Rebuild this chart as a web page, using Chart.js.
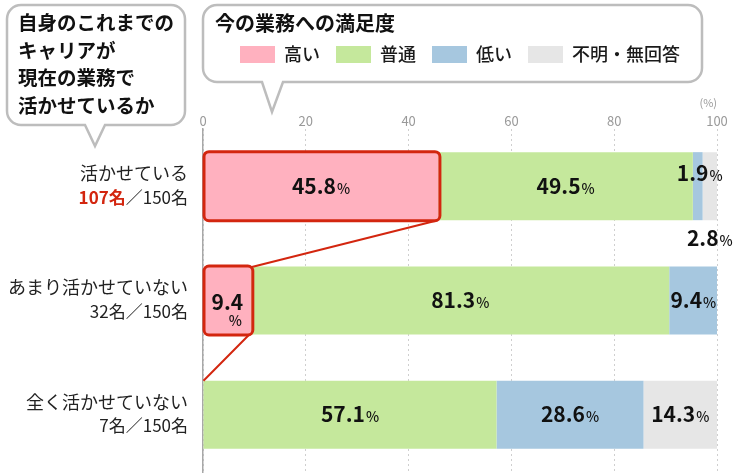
<!DOCTYPE html>
<html lang="ja">
<head>
<meta charset="utf-8">
<title>自身のこれまでのキャリアが現在の業務で活かせているか</title>
<script src="https://cdn.jsdelivr.net/npm/chart.js@4.4.1/dist/chart.umd.min.js"></script>
<style>
html, body { margin: 0; padding: 0; background: #fff; }
#wrap { width: 738px; height: 475px; }
</style>
</head>
<body>
<div id="wrap"><canvas id="chart" width="738" height="475"></canvas></div>
<script>
var categories = ['活かせている', 'あまり活かせていない', '全く活かせていない'];
var counts = [107, 32, 7];
var total = 150;
var seriesNames = ['高い', '普通', '低い', '不明・無回答'];
var high = [45.8, 9.4, 0];
var normal = [49.5, 81.3, 57.1];
var low = [1.9, 9.4, 28.6];
var unknown = [2.8, 0, 14.3];
var xTicks = [0, 20, 40, 60, 80, 100];

var FONT = '"Noto Sans CJK JP", "Noto Sans", sans-serif';
var RED = '#d3260f';
Chart.defaults.font.family = FONT;

// labels that don't sit in the middle of their segment
var labelShift = {
    '2-0': { dx: 2, dy: -13 },
    '3-0': { dx: 0, dy: 52 },
    '0-1': { split: true }
};

function drawValue(ctx, v, x, y, split) {
    var num = v.toFixed(1);
    ctx.fillStyle = '#111';
    if (split) {
        ctx.textAlign = 'center';
        ctx.textBaseline = 'middle';
        ctx.font = 'bold 21px ' + FONT;
        ctx.fillText(num, x, y + 2);
        ctx.font = '500 14px ' + FONT;
        ctx.fillText('%', x + 8, y + 20);
        return;
    }
    ctx.font = 'bold 21px ' + FONT;
    var w1 = ctx.measureText(num).width;
    ctx.font = '500 14px ' + FONT;
    var w2 = ctx.measureText('%').width;
    var left = x - (w1 + w2 + 1) / 2;
    ctx.textAlign = 'left';
    ctx.textBaseline = 'alphabetic';
    ctx.font = 'bold 21px ' + FONT;
    ctx.fillText(num, left, y + 7.5);
    ctx.font = '500 14px ' + FONT;
    ctx.fillText('%', left + w1 + 1, y + 7.5);
}

function bubble(ctx, x, y, w, h, r, tail) {
    ctx.beginPath();
    ctx.moveTo(x + r, y);
    ctx.lineTo(x + w - r, y);
    ctx.arcTo(x + w, y, x + w, y + r, r);
    ctx.lineTo(x + w, y + h - r);
    ctx.arcTo(x + w, y + h, x + w - r, y + h, r);
    ctx.lineTo(tail.x2, y + h);
    ctx.lineTo(tail.tipX, tail.tipY);
    ctx.lineTo(tail.x1, y + h);
    ctx.lineTo(x + r, y + h);
    ctx.arcTo(x, y + h, x, y + h - r, r);
    ctx.lineTo(x, y + r);
    ctx.arcTo(x, y, x + r, y, r);
    ctx.closePath();
    ctx.fillStyle = '#fff';
    ctx.fill();
    ctx.lineWidth = 2.5;
    ctx.strokeStyle = '#bdbdbd';
    ctx.stroke();
}

var decorPlugin = {
    id: 'decor',
    beforeDraw: function(chart) {
        var ctx = chart.ctx;
        var lg = chart.legend;
        ctx.save();
        bubble(ctx, 7, 5, 178, 120, 14, { x1: 85, x2: 105, tipX: 95, tipY: 146 });
        bubble(ctx, lg.left, 5, lg.width - 15, 77, 14, { x1: 262, x2: 283, tipX: 272, tipY: 112 });

        ctx.fillStyle = '#111';
        ctx.textAlign = 'left';
        ctx.textBaseline = 'middle';
        ctx.font = 'bold 19.5px ' + FONT;
        ['自身のこれまでの', 'キャリアが', '現在の業務で', '活かせているか'].forEach(function(t, i) {
            ctx.fillText(t, 18, 23 + i * 27.5);
        });
        ctx.font = 'bold 20px ' + FONT;
        ctx.fillText('今の業務への満足度', lg.left + 12, 23);
        ctx.restore();
    },
    afterDatasetsDraw: function(chart) {
        var ctx = chart.ctx;
        var first = chart.getDatasetMeta(0).data;
        var thirdRow = chart.getDatasetMeta(1).data[2];
        function box(el) {
            var h = el.height;
            return { l: el.base + 0.5, r: el.x + 1.5, t: el.y - h / 2 - 0.5, b: el.y + h / 2 + 0.5 };
        }
        var b1 = box(first[0]);
        var b2 = box(first[1]);
        ctx.save();
        ctx.strokeStyle = RED;
        ctx.lineWidth = 2;
        ctx.beginPath();
        ctx.moveTo(b1.r - 4, b1.b);
        ctx.lineTo(b2.r - 1, b2.t + 1);
        ctx.moveTo(b2.r - 4, b2.b);
        ctx.lineTo(thirdRow.base, thirdRow.y - thirdRow.height / 2);
        ctx.stroke();
        ctx.lineWidth = 3;
        [b1, b2].forEach(function(b) {
            ctx.beginPath();
            ctx.roundRect(b.l, b.t, b.r - b.l, b.b - b.t, 5);
            ctx.stroke();
        });

        // value labels
        chart.data.datasets.forEach(function(ds, di) {
            chart.getDatasetMeta(di).data.forEach(function(el, i) {
                var v = ds.data[i];
                if (!v) return;
                var s = labelShift[di + '-' + i] || {};
                var cx = (el.x + el.base) / 2 + (s.dx || 0);
                var cy = el.y + (s.dy || 0);
                drawValue(ctx, v, cx, cy, s.split);
            });
        });

        // category labels with head counts
        var yScale = chart.scales.y;
        var x = chart.chartArea.left - 15;
        categories.forEach(function(c, i) {
            var y = yScale.getPixelForValue(i);
            ctx.textAlign = 'right';
            ctx.textBaseline = 'middle';
            ctx.fillStyle = '#222';
            ctx.font = '18px ' + FONT;
            ctx.fillText(c, x, y - 13);
            var rest = '／' + total + '名';
            ctx.font = '17px ' + FONT;
            ctx.fillText(rest, x, y + 11);
            var w = ctx.measureText(rest).width;
            if (i === 0) {
                ctx.fillStyle = RED;
                ctx.font = 'bold 17px ' + FONT;
            }
            ctx.fillText(counts[i] + '名', x - w, y + 11);
        });
        ctx.restore();
    }
};

var ctx = document.getElementById('chart').getContext('2d');
var chart = new Chart(ctx, {
    type: 'bar',
    data: {
        labels: categories,
        datasets: [
            { label: seriesNames[0], data: high, backgroundColor: '#ffb1bf' },
            { label: seriesNames[1], data: normal, backgroundColor: '#c5e89c' },
            { label: seriesNames[2], data: low, backgroundColor: '#a6c7df' },
            { label: seriesNames[3], data: unknown, backgroundColor: '#e6e6e6' }
        ]
    },
    options: {
        indexAxis: 'y',
        responsive: false,
        animation: false,
        datasets: { bar: { barPercentage: 0.595, categoryPercentage: 1, borderWidth: 0 } },
        layout: { padding: { left: 203, right: 21, top: 29.5, bottom: 3 } },
        plugins: {
            tooltip: { enabled: false },
            legend: {
                position: 'top',
                align: 'center',
                labels: {
                    boxWidth: 35,
                    boxHeight: 17,
                    padding: 16,
                    color: '#1a1a1a',
                    font: { size: 18, weight: '500' }
                }
            }
        },
        scales: {
            x: {
                position: 'top',
                stacked: true,
                min: 0,
                max: 100,
                afterBuildTicks: function(s) {
                    s.ticks = xTicks.map(function(v) { return { value: v }; });
                },
                afterFit: function(s) { s.height = 55.5; },
                ticks: { color: '#999', padding: 0, font: { size: 13 } },
                grid: { color: '#cfcfcf', lineWidth: 1, drawTicks: false },
                border: { display: false, dash: [2, 3] },
                title: {
                    display: true,
                    text: '(%)',
                    align: 'end',
                    color: '#999',
                    font: { size: 11 },
                    padding: { top: 22.9, bottom: 0 }
                }
            },
            y: {
                stacked: true,
                ticks: { display: false },
                grid: { display: false },
                border: { display: true, color: '#a8a8a8', width: 1.5 },
                afterFit: function(s) { s.width = 0; }
            }
        }
    },
    plugins: [decorPlugin]
});
</script>
</body>
</html>
